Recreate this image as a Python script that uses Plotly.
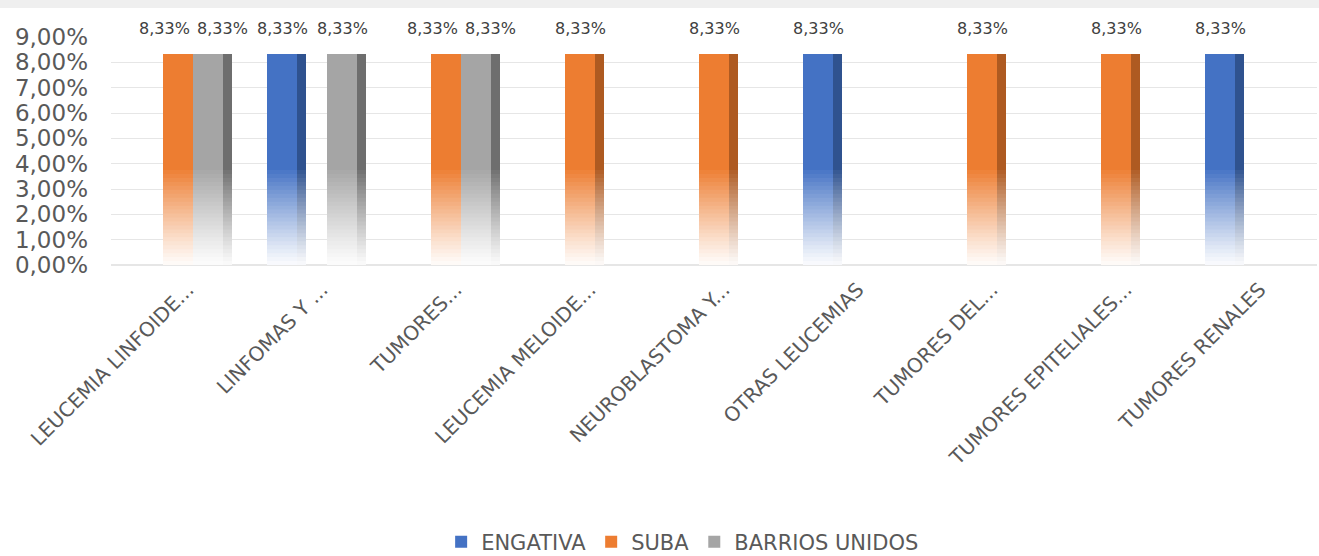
import plotly.graph_objects as go

# ---------------- data ----------------
categories = [
    "LEUCEMIA LINFOIDE...",
    "LINFOMAS Y ...",
    "TUMORES...",
    "LEUCEMIA MELOIDE...",
    "NEUROBLASTOMA Y...",
    "OTRAS LEUCEMIAS",
    "TUMORES DEL...",
    "TUMORES EPITELIALES...",
    "TUMORES RENALES",
]
engativa = [None, 8.33, None, None, None, 8.33, None, None, 8.33]
suba = [8.33, None, 8.33, 8.33, 8.33, None, 8.33, 8.33, None]
barrios_unidos = [8.33, 8.33, 8.33, None, None, None, None, None, None]

series_names = ["ENGATIVA", "SUBA", "BARRIOS UNIDOS"]
series_values = [engativa, suba, barrios_unidos]

# ---------------- styles ----------------
FONT = "'DejaVu Sans', sans-serif"
front_colors = [(68, 114, 196), (237, 125, 49), (165, 165, 165)]
side_colors = [(47, 82, 143), (174, 90, 33), (110, 110, 110)]

BAR_W = 30 / 134      # front face width (axis units)
SIDE_W = 9 / 134      # side face width
N_GRAD = 24           # gradient layers
GRAD_FRAC = 0.45      # fraction of bar height that fades to white
ALPHA0 = 0.04

x_idx = list(range(len(categories)))


def mix(rgb, t):
    r, g, b = rgb
    return "rgb(%d,%d,%d)" % (
        round(255 * (1 - t) + r * t),
        round(255 * (1 - t) + g * t),
        round(255 * (1 - t) + b * t),
    )


def layers(values):
    """Opaque overlapping layers: layer k spans from its start level up to the bar top."""
    out = []
    for k in range(N_GRAD + 1):
        frac = GRAD_FRAC * k / N_GRAD
        base = [None if v is None else v * frac for v in values]
        h = [None if v is None else v * (1 - frac) for v in values]
        t = ALPHA0 + (1 - ALPHA0) * (k / N_GRAD) ** 1.1
        out.append((base, h, min(t, 1.0)))
    return out


fig = go.Figure()

for face in ("side", "front"):
    for s, (name, vals) in enumerate(zip(series_names, series_values)):
        off_front = (s - 1.5) * BAR_W
        if face == "side":
            off, w, col = off_front + BAR_W, SIDE_W, side_colors[s]
        else:
            off, w, col = off_front, BAR_W, front_colors[s]
        lay = layers(vals)
        for k, (base, h, t) in enumerate(lay):
            is_legend = face == "front" and k == len(lay) - 1
            fig.add_trace(
                go.Bar(
                    x=x_idx,
                    y=h,
                    base=base,
                    offset=off,
                    width=w,
                    name=name,
                    legendgroup=name,
                    showlegend=is_legend,
                    legendrank=s,
                    marker=dict(color=mix(col, t), line=dict(width=0)),
                    hoverinfo="skip",
                )
            )

# data labels
annotations = []
for s, vals in enumerate(series_values):
    off_front = (s - 1.5) * BAR_W
    for i, v in enumerate(vals):
        if v is None:
            continue
        shift = 0
        left_nb = s > 0 and series_values[s - 1][i] is not None
        right_nb = s < 2 and series_values[s + 1][i] is not None
        if right_nb:
            shift = -14
        elif left_nb:
            shift = 14
        annotations.append(
            dict(
                x=i + off_front + BAR_W / 2,
                y=v,
                xref="x",
                yref="y",
                text=("%.2f" % v).replace(".", ",") + "%",
                showarrow=False,
                xshift=shift,
                yshift=25,
                yanchor="middle",
                font=dict(family=FONT, size=16, color="#404040"),
            )
        )

fig.update_layout(
    width=1319,
    height=556,
    barmode="overlay",
    separators=",.",
    paper_bgcolor="white",
    plot_bgcolor="white",
    margin=dict(l=111, r=2, t=37, b=291, autoexpand=False),
    font=dict(family=FONT, color="#595959"),
    annotations=annotations,
    shapes=[
        dict(type="rect", xref="paper", yref="paper", x0=-0.1, x1=1.01,
             y0=1.127, y1=1.2, fillcolor="#efefef", line=dict(width=0), layer="below"),
    ],
    legend=dict(
        orientation="h",
        x=0.474,
        y=-1.125,
        xanchor="center",
        yanchor="top",
        font=dict(family=FONT, size=21, color="#595959"),
        bgcolor="rgba(0,0,0,0)",
        traceorder="normal",
        itemclick=False,
        itemdoubleclick=False,
    ),
    xaxis=dict(
        range=[-0.5, len(categories) - 0.5],
        tickmode="array",
        tickvals=x_idx,
        ticktext=categories,
        tickangle=-45,
        showgrid=False,
        zeroline=False,
        showline=False,
        ticks="",
        ticklabelstandoff=8,
        ticklabelshift=10,
        tickfont=dict(family=FONT, size=20, color="#595959"),
        automargin=False,
    ),
    yaxis=dict(
        range=[0, 9],
        dtick=1,
        tickformat=".2f",
        ticksuffix="%",
        showgrid=True,
        gridcolor="#e6e6e6",
        gridwidth=1,
        zeroline=True,
        zerolinecolor="#e6e6e6",
        showline=False,
        ticks="",
        ticklabelstandoff=22,
        tickfont=dict(family=FONT, size=23, color="#595959"),
        automargin=False,
    ),
)

fig.write_html(
    "out.html",
    config={"displayModeBar": False},
    post_script="document.body.style.margin='0';document.body.style.overflow='hidden';",
)
